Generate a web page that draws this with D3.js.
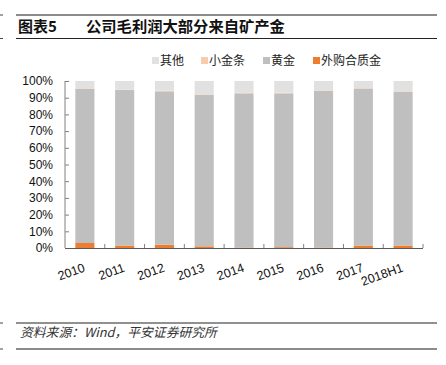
<!DOCTYPE html>
<html>
<head>
<meta charset="utf-8">
<script src="https://cdn.jsdelivr.net/npm/d3@7"></script>
<style>
  body { margin: 0; background: #fff; }
  svg { display: block; font-family: "Liberation Sans", Arial, "Noto Sans CJK SC", sans-serif; }
</style>
</head>
<body>
<svg width="446" height="365"></svg>
<script>
// categories and series (percent of gross profit)
var years = ["2010", "2011", "2012", "2013", "2014", "2015", "2016", "2017", "2018H1"];
var waigou = [3.0, 1.5, 2.0, 1.0, 0.3, 0.5, 0.3, 1.5, 1.5];      // 外购合质金
var huangjin = [92.2, 93.1, 91.8, 90.6, 92.3, 92.1, 93.7, 93.7, 92.1]; // 黄金
var xiaojintiao = [0.4, 0.3, 0.4, 0.4, 0.3, 0.4, 0.4, 0.5, 0.3];  // 小金条
var qita = [4.4, 5.1, 5.8, 8.0, 7.1, 7.0, 5.6, 4.3, 6.1];         // 其他
var yTicks = [0, 10, 20, 30, 40, 50, 60, 70, 80, 90, 100];

var seriesNames = ["外购合质金", "黄金", "小金条", "其他"];
var colors = { "外购合质金": "#ed7d31", "黄金": "#bfbfbf", "小金条": "#f8cbad", "其他": "#e1e1e1" };
var legendOrder = ["其他", "小金条", "黄金", "外购合质金"];

var svg = d3.select("svg");

// build rows for the stack
var rows = years.map(function (y, i) {
    return { year: y, "外购合质金": waigou[i], "黄金": huangjin[i], "小金条": xiaojintiao[i], "其他": qita[i] };
});
var stacked = d3.stack().keys(seriesNames)(rows);

// header lines and title
svg.append("line").attr("x1", 16).attr("x2", 437).attr("y1", 15).attr("y2", 15)
    .attr("stroke", "#8c8c8c").attr("stroke-width", 2);
svg.append("line").attr("x1", 16).attr("x2", 437).attr("y1", 38.5).attr("y2", 38.5)
    .attr("stroke", "#222").attr("stroke-width", 1);
svg.append("line").attr("x1", 0).attr("x2", 3).attr("y1", 15).attr("y2", 15).attr("stroke", "#444");
svg.append("line").attr("x1", 0).attr("x2", 3).attr("y1", 38.5).attr("y2", 38.5).attr("stroke", "#444");

svg.append("text").attr("x", 18).attr("y", 32)
    .attr("font-size", 15).attr("font-weight", "bold").attr("fill", "#111")
    .style("font-family", "'Noto Sans CJK SC', sans-serif")
    .text("图表5");
svg.append("text").attr("x", 86).attr("y", 32)
    .attr("font-size", 15.3).attr("font-weight", "bold").attr("fill", "#111")
    .style("font-family", "'Noto Sans CJK SC', sans-serif")
    .text("公司毛利润大部分来自矿产金");

// legend
var legendX = [152, 201, 263, 313];
var legend = svg.append("g").selectAll("g")
    .data(legendOrder)
    .enter().append("g")
    .attr("transform", function (d, i) { return "translate(" + legendX[i] + ",56)"; });
legend.append("rect").attr("width", 7).attr("height", 7).attr("y", 1)
    .attr("fill", function (d) { return colors[d]; });
legend.append("text").attr("x", 8).attr("y", 8.5)
    .attr("font-size", 12).attr("fill", "#222")
    .style("font-family", "'Noto Sans CJK SC', sans-serif")
    .text(function (d) { return d; });

// plot area
var margin = { left: 65, top: 81, right: 423, bottom: 248 };
var x = d3.scaleBand().domain(years).range([margin.left, margin.right]).paddingInner(0).paddingOuter(0);
var y = d3.scaleLinear().domain([0, 100]).range([margin.bottom, margin.top]);
var barW = x.bandwidth() * 0.48;

// bars
svg.append("g").selectAll("g")
    .data(stacked)
    .enter().append("g")
    .attr("fill", function (d) { return colors[d.key]; })
    .selectAll("rect")
    .data(function (d) { return d; })
    .enter().append("rect")
    .attr("x", function (d) { return x(d.data.year) + (x.bandwidth() - barW) / 2; })
    .attr("y", function (d) { return y(d[1]); })
    .attr("width", barW)
    .attr("height", function (d) { return y(d[0]) - y(d[1]); });

// y axis
var yAxis = svg.append("g")
    .attr("transform", "translate(" + margin.left + ",0)")
    .call(d3.axisLeft(y).tickValues(yTicks).tickSize(-4).tickPadding(12)
        .tickFormat(function (d) { return d + "%"; }));
yAxis.select(".domain").attr("stroke", "#808080").attr("d", "M0," + margin.top + "V" + margin.bottom);
yAxis.selectAll(".tick line").attr("stroke", "#808080");
yAxis.selectAll(".tick text").attr("font-size", 12).attr("fill", "#111")
    .style("font-family", "'Liberation Sans', Arial, sans-serif");

// x axis
var xAxis = svg.append("g")
    .attr("transform", "translate(0," + margin.bottom + ")")
    .call(d3.axisBottom(x).tickSize(0).tickFormat(""));
xAxis.select(".domain").attr("stroke", "#595959").attr("d", "M" + margin.left + ",0.5H" + margin.right);
// boundary ticks pointing up
svg.append("g").selectAll("line")
    .data(years)
    .enter().append("line")
    .attr("x1", function (d) { return x(d) + x.bandwidth(); })
    .attr("x2", function (d) { return x(d) + x.bandwidth(); })
    .attr("y1", margin.bottom - 4)
    .attr("y2", margin.bottom)
    .attr("stroke", "#808080");
xAxis.selectAll(".tick text").remove();
svg.append("g").selectAll("text")
    .data(years)
    .enter().append("text")
    .attr("transform", function (d) {
        return "translate(" + (x(d) + x.bandwidth() / 2 + 1) + ",271) rotate(-20)";
    })
    .attr("text-anchor", "end")
    .attr("font-size", 12.5)
    .attr("fill", "#111")
    .style("font-family", "'Liberation Sans', Arial, sans-serif")
    .text(function (d) { return d; });

// footer
svg.append("line").attr("x1", 16).attr("x2", 437).attr("y1", 323).attr("y2", 323)
    .attr("stroke", "#222").attr("stroke-width", 1);
svg.append("line").attr("x1", 16).attr("x2", 437).attr("y1", 349).attr("y2", 349)
    .attr("stroke", "#8c8c8c").attr("stroke-width", 2);
svg.append("line").attr("x1", 0).attr("x2", 3).attr("y1", 323).attr("y2", 323).attr("stroke", "#444");
svg.append("line").attr("x1", 0).attr("x2", 3).attr("y1", 349).attr("y2", 349).attr("stroke", "#444");
svg.append("text").attr("x", 20).attr("y", 337)
    .attr("font-size", 12.8).attr("font-style", "italic").attr("fill", "#333")
    .style("font-family", "'Noto Sans CJK SC', sans-serif")
    .text("资料来源：Wind，平安证券研究所");
</script>
</body>
</html>
